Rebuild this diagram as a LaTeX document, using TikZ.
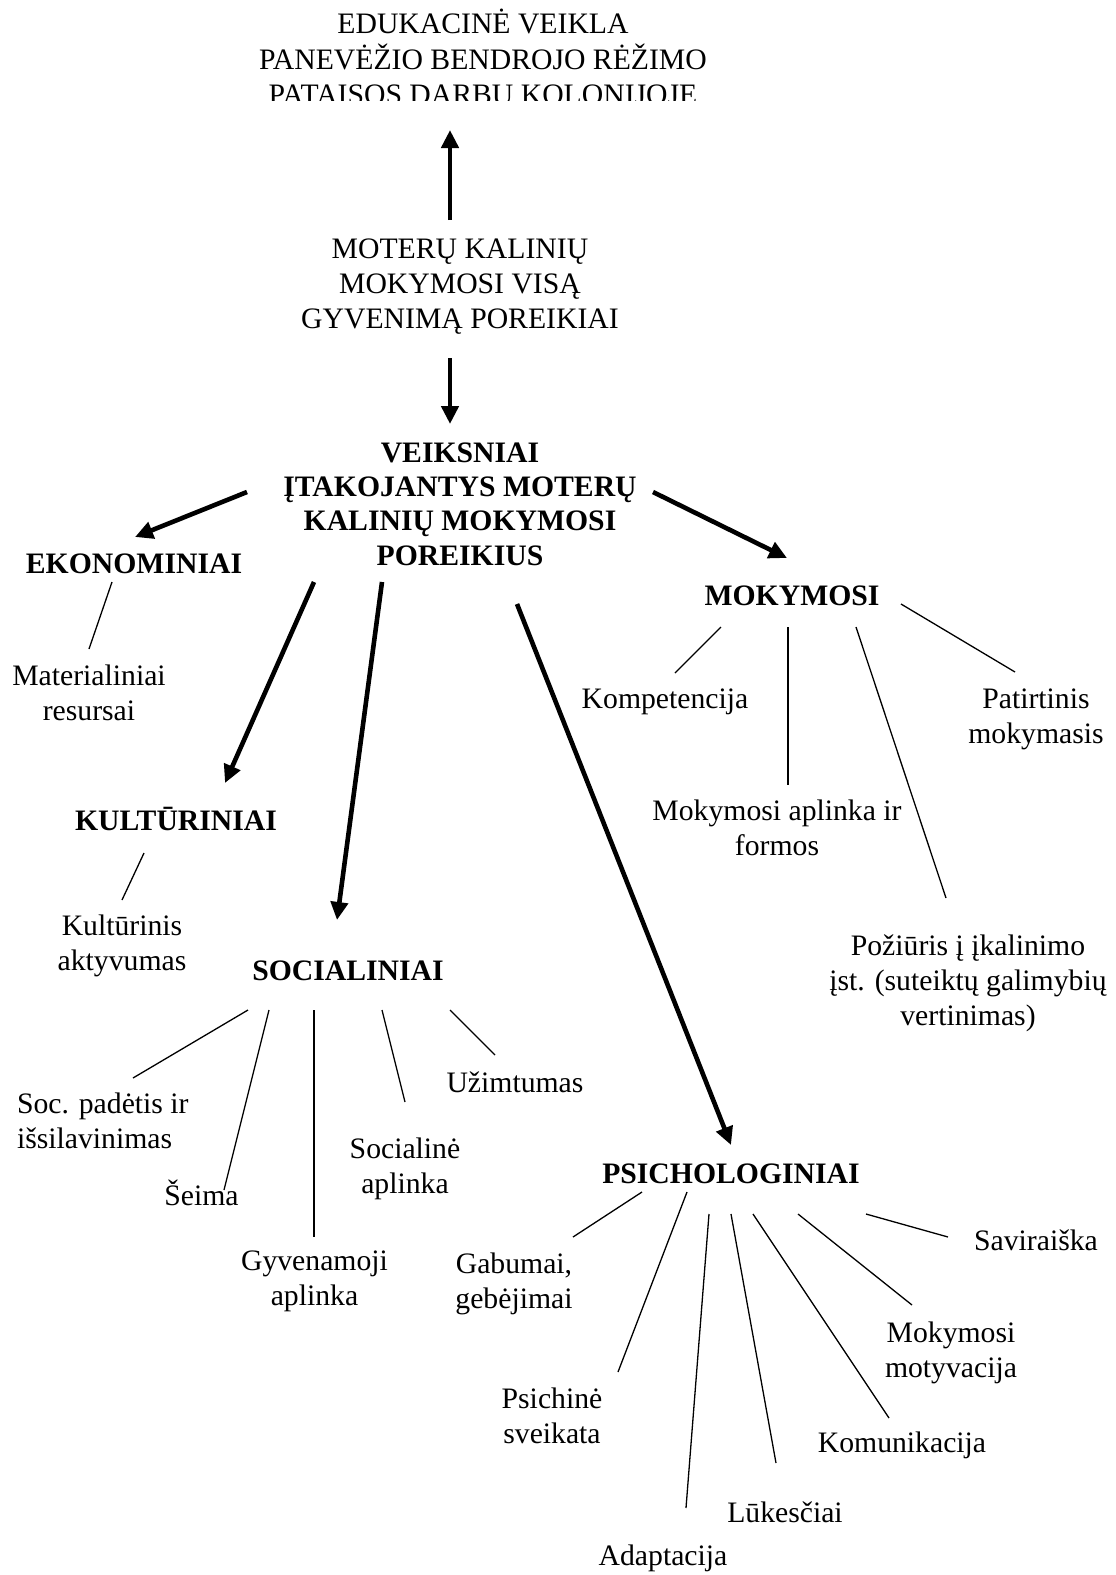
\documentclass[tikz,border=0pt]{standalone}
\usepackage{fontspec}
\setmainfont{Liberation Serif}
\usetikzlibrary{arrows.meta,calc}
\newcommand\mlc[1]{\begin{tabular}[t]{@{}c@{}}#1\end{tabular}}
\newcommand\mll[1]{\begin{tabular}[t]{@{}l@{}}#1\end{tabular}}
\tikzset{
  x=1pt, y=-1pt,
  txt/.style={inner sep=0pt, outer sep=0pt, anchor=base, font=\fontsize{29.7}{35}\selectfont},
  btxt/.style={txt, font=\fontsize{29.7}{34.4}\selectfont\bfseries},
  bigarrow/.style={line width=4.6pt, -{Triangle[length=18pt,width=17pt]}},
  thinline/.style={line width=1.3pt},
}
\begin{document}
\begin{tikzpicture}
\useasboundingbox (0,0) rectangle (1116,1575);
% title (bottom line cut off as in the reference)
\begin{scope}
\clip (0,0) rectangle (1116,100.5);
\node[txt] (title) at (483,33) {\mlc{EDUKACINĖ VEIKLA\\PANEVĖŽIO BENDROJO RĖŽIMO\\PATAISOS DARBŲ KOLONIJOJE}};
\end{scope}
\node[txt] (moter) at (460,258) {\mlc{MOTERŲ KALINIŲ\\MOKYMOSI VISĄ\\GYVENIMĄ POREIKIAI}};
\node[btxt] (veik) at (460,462) {\mlc{VEIKSNIAI\\ĮTAKOJANTYS MOTERŲ\\KALINIŲ MOKYMOSI\\POREIKIUS}};
% main groups
\node[btxt] (ekon) at (134,573) {EKONOMINIAI};
\node[btxt] (kult) at (176,830) {KULTŪRINIAI};
\node[btxt] (soc) at (348,980) {SOCIALINIAI};
\node[btxt] (mok) at (792,605) {MOKYMOSI};
\node[btxt] (psi) at (731,1183) {PSICHOLOGINIAI};
% leaves
\node[txt] (mater) at (89,685) {\mlc{Materialiniai\\resursai}};
\node[txt] (kultakt) at (122,935) {\mlc{Kultūrinis\\aktyvumas}};
\node[txt, anchor=base west] (socpad) at (17,1113) {\mll{Soc. padėtis ir\\išsilavinimas}};
\node[txt] (seima) at (201.5,1205) {Šeima};
\node[txt] (gyv) at (314.5,1270) {\mlc{Gyvenamoji\\aplinka}};
\node[txt] (socapl) at (405,1158) {\mlc{Socialinė\\aplinka}};
\node[txt] (uzim) at (515,1092) {Užimtumas};
\node[txt] (komp) at (665,708) {Kompetencija};
\node[txt] (mokapl) at (777,820) {\mlc{Mokymosi aplinka ir\\formos}};
\node[txt] (poz) at (968,955) {\mlc{Požiūris į įkalinimo\\įst. (suteiktų galimybių\\vertinimas)}};
\node[txt] (pat) at (1036,708) {\mlc{Patirtinis\\mokymasis}};
\node[txt] (gab) at (514,1273) {\mlc{Gabumai,\\gebėjimai}};
\node[txt] (psich) at (552,1408) {\mlc{Psichinė\\sveikata}};
\node[txt] (adapt) at (663,1565) {Adaptacija};
\node[txt] (luk) at (785,1522) {Lūkesčiai};
\node[txt] (komun) at (902,1452) {Komunikacija};
\node[txt] (motyv) at (951,1342) {\mlc{Mokymosi\\motyvacija}};
\node[txt] (savir) at (1036,1250) {Saviraiška};
% thick arrows
\draw[bigarrow] ($(moter.base)+(-10,-38)$) -- ($(title.base)+(-33,97)$);
\draw[bigarrow] ($(moter.base)+(-10,100)$) -- ($(veik.base)+(-10,-38)$);
\draw[bigarrow] ($(veik.base)+(-213,30)$) -- ($(ekon.base)+(1,-36)$);
\draw[bigarrow] ($(veik.base)+(-146,120)$) -- ($(kult.base)+(49,-47)$);
\draw[bigarrow] ($(veik.base)+(-78,120)$) -- ($(soc.base)+(-11,-60)$);
\draw[bigarrow] ($(veik.base)+(57,142)$) -- ($(psi.base)+(0,-38)$);
\draw[bigarrow] ($(veik.base)+(193,30)$) -- ($(mok.base)+(-5,-47)$);
% thin connectors
\draw[thinline] ($(ekon.base)+(-22,9)$) -- ($(mater.base)+(0,-36)$);
\draw[thinline] ($(kult.base)+(-32,23)$) -- ($(kultakt.base)+(0,-35)$);
\draw[thinline] ($(soc.base)+(-100,30)$) -- ($(socpad.base west)+(116,-35)$);
\draw[thinline] ($(soc.base)+(-79,30)$) -- ($(seima.base)+(22.5,-15)$);
\draw[thinline] ($(soc.base)+(-34,30)$) -- ($(gyv.base)+(-0.5,-33)$);
\draw[thinline] ($(soc.base)+(34,30)$) -- ($(socapl.base)+(0,-56)$);
\draw[thinline] ($(soc.base)+(102,30)$) -- ($(uzim.base)+(-20,-37)$);
\draw[thinline] ($(mok.base)+(-71,22)$) -- ($(komp.base)+(10,-35)$);
\draw[thinline] ($(mok.base)+(-4,22)$) -- ($(mokapl.base)+(11,-35)$);
\draw[thinline] ($(mok.base)+(64,22)$) -- ($(poz.base)+(-22,-57)$);
\draw[thinline] ($(mok.base)+(109,-1)$) -- ($(pat.base)+(-21,-36)$);
\draw[thinline] ($(psi.base)+(-89,9)$) -- ($(gab.base)+(59,-36)$);
\draw[thinline] ($(psi.base)+(-44,9)$) -- ($(psich.base)+(66,-36)$);
\draw[thinline] ($(psi.base)+(-22,31)$) -- ($(adapt.base)+(23,-57)$);
\draw[thinline] ($(psi.base)+(0,31)$) -- ($(luk.base)+(-9,-59)$);
\draw[thinline] ($(psi.base)+(22,31)$) -- ($(komun.base)+(-13,-34)$);
\draw[thinline] ($(psi.base)+(67,31)$) -- ($(motyv.base)+(-39,-37)$);
\draw[thinline] ($(psi.base)+(135,31)$) -- ($(savir.base)+(-88,-13)$);
\end{tikzpicture}
\end{document}
